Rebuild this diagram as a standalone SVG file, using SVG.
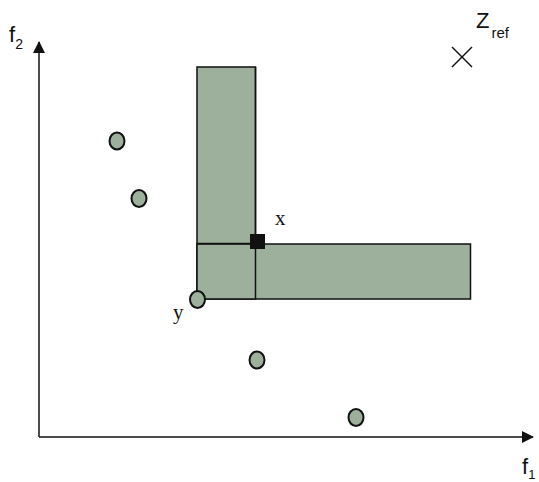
<svg xmlns="http://www.w3.org/2000/svg" width="539" height="482" viewBox="0 0 539 482">
<style>
.box{fill:#9cb09c;stroke:#111;stroke-width:1.5}
.pt{fill:#9cb09c;stroke:#111;stroke-width:2}
.ln{stroke:#111;stroke-width:1.5;fill:none}
.ax{stroke:#111;stroke-width:1.5;fill:none}
.sans{font-family:"Liberation Sans",Arial,sans-serif;fill:#111}
.serif{font-family:"Liberation Serif","Times New Roman",serif;fill:#111}
</style>
<defs>
<marker id="arr" viewBox="0 0 12 12" refX="11" refY="6" markerWidth="12" markerHeight="12" markerUnits="userSpaceOnUse" orient="auto">
<path d="M0,0 L12,6 L0,12 Z" fill="#111"/>
</marker>
</defs>
<g id="axes">
<line class="ax" x1="39" y1="437" x2="39" y2="42" marker-end="url(#arr)"/>
<line class="ax" x1="39" y1="437" x2="533" y2="437" marker-end="url(#arr)"/>
<text class="sans" x="9" y="42" font-size="22">f<tspan font-size="14" dy="7">2</tspan></text>
<text class="sans" x="522" y="474" font-size="22">f<tspan font-size="13" dy="5">1</tspan></text>
</g>
<g id="boxes">
<rect class="box" x="197" y="67" width="58.5" height="232"/>
<rect class="box" x="197" y="244" width="273.5" height="55"/>
<line class="ln" x1="197" y1="243.5" x2="256" y2="243.5"/>
<line class="ln" x1="255.5" y1="67" x2="255.5" y2="299"/>
</g>
<g id="zref">
<line class="ln" x1="452" y1="47" x2="472" y2="67"/>
<line class="ln" x1="472" y1="47" x2="452" y2="67"/>
<text class="sans" x="476" y="28" font-size="22">Z<tspan font-size="15" dx="2" dy="10">ref</tspan></text>
</g>
<g id="points">
<ellipse class="pt" cx="117" cy="141" rx="7.5" ry="8.5"/>
<ellipse class="pt" cx="139" cy="198.5" rx="7.5" ry="8.5"/>
<ellipse class="pt" cx="257" cy="360" rx="7.5" ry="8.5"/>
<ellipse class="pt" cx="356" cy="417.5" rx="7.5" ry="8.5"/>
<ellipse class="pt" cx="197.5" cy="299.5" rx="7.5" ry="8.5"/>
</g>
<g id="x">
<rect x="250" y="234" width="15" height="15" fill="#111"/>
<text class="serif" x="275" y="225" font-size="21">x</text>
</g>
<g id="y">
<text class="serif" x="173" y="319" font-size="21">y</text>
</g>
</svg>
